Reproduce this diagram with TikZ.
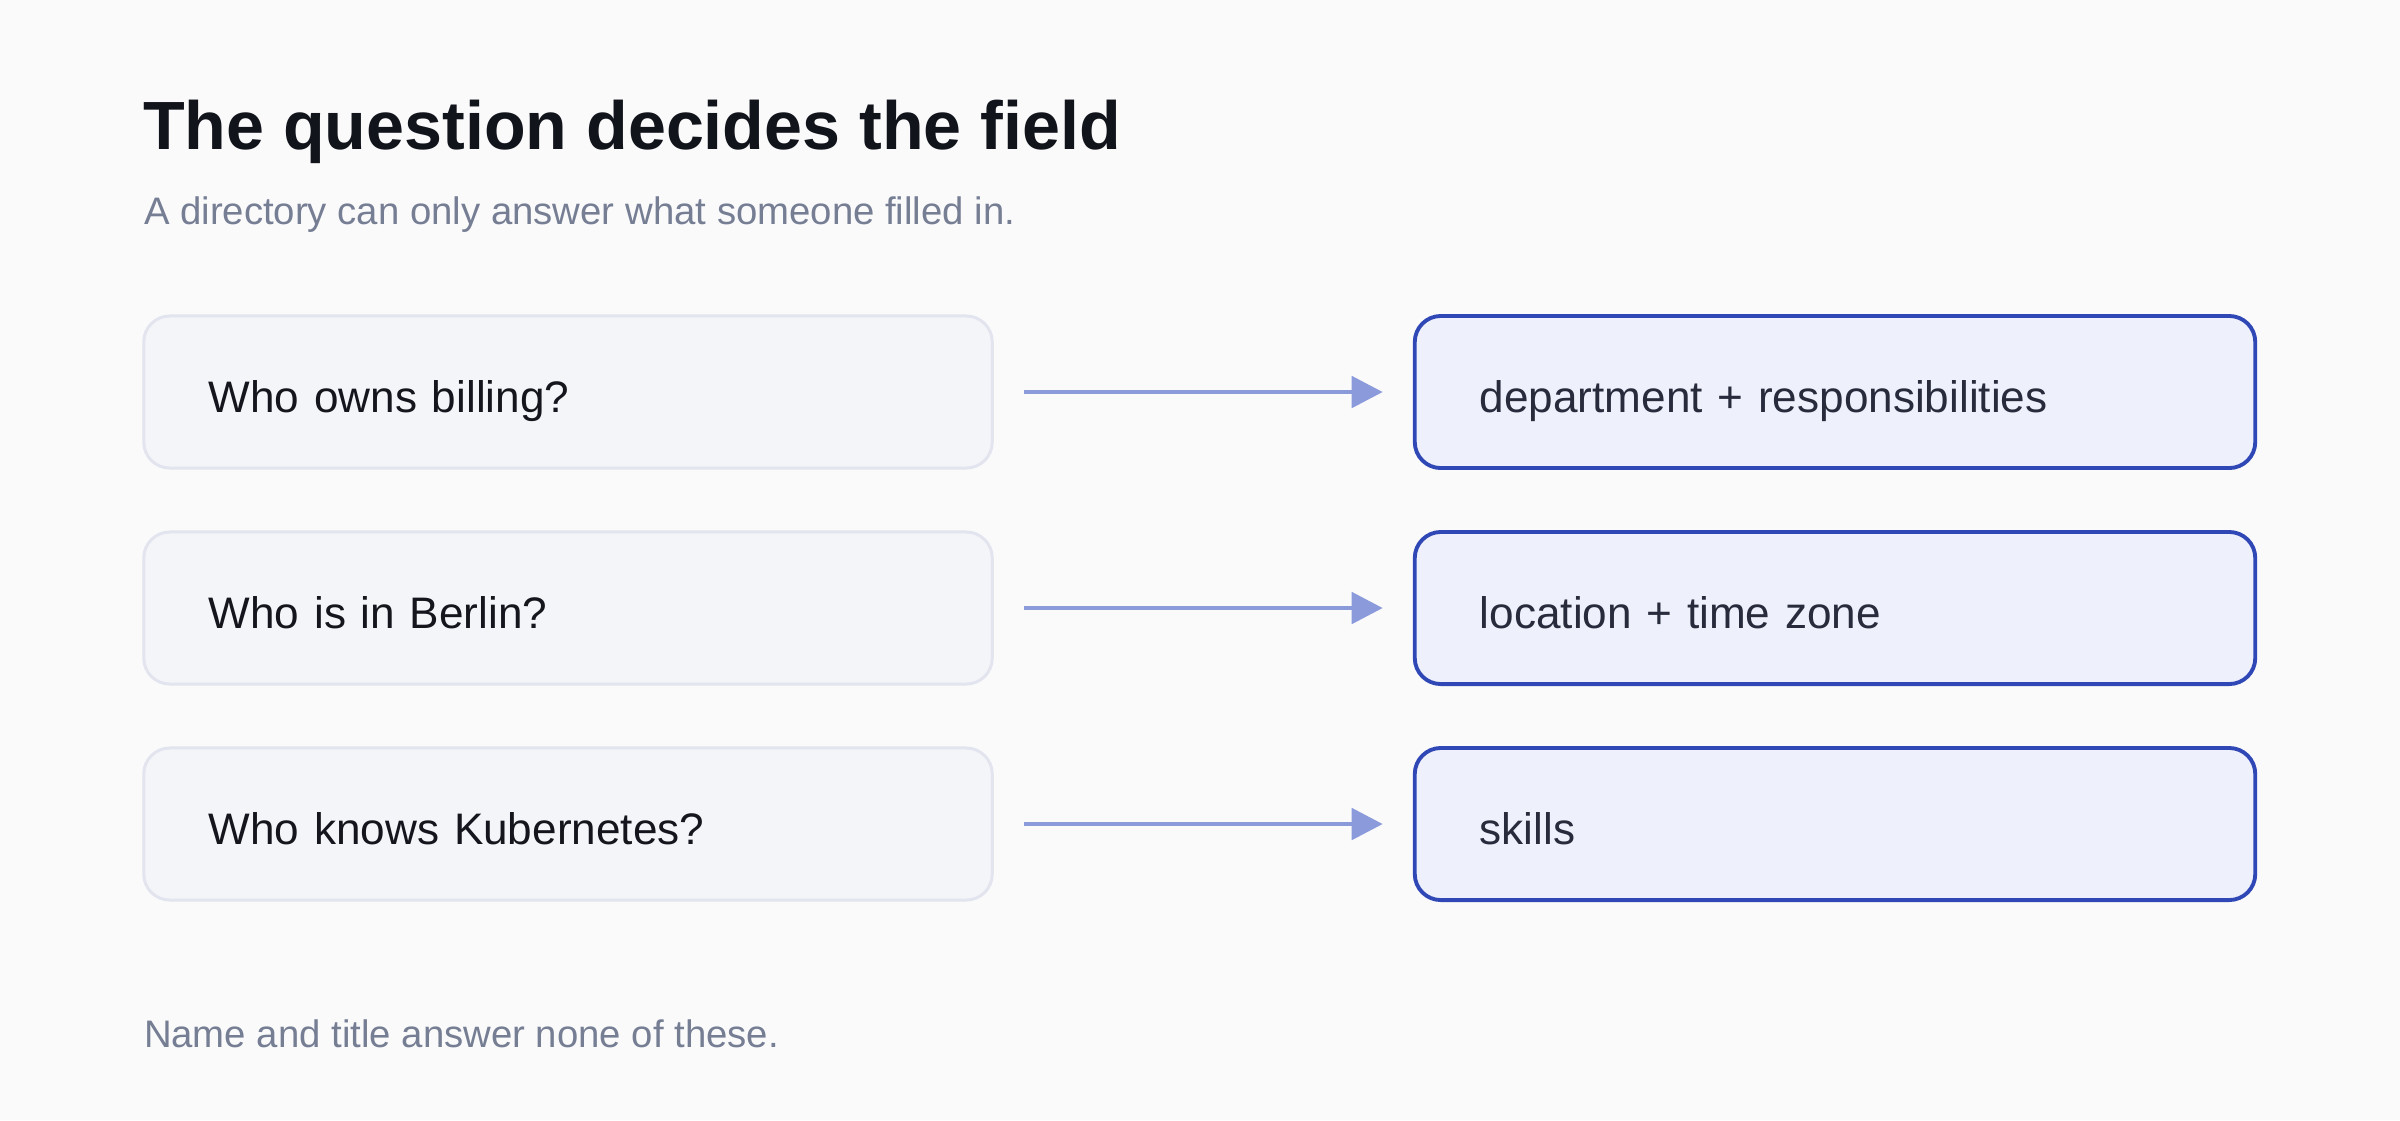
\documentclass[tikz,border=0pt]{standalone}
\usepackage{fontspec}
\setmainfont{Liberation Sans}
\usepackage{tikz}
\usetikzlibrary{positioning,arrows}
\usetikzlibrary{shapes}
\usetikzlibrary{arrows.meta}
\usepackage{xcolor}
\definecolor{pagebg}{HTML}{FAFAFB}
\definecolor{titleink}{HTML}{12141C}
\definecolor{mutedink}{HTML}{767E94}
\definecolor{qfill}{HTML}{F4F5F9}
\definecolor{qline}{HTML}{E2E4EE}
\definecolor{qink}{HTML}{15161D}
\definecolor{ffill}{HTML}{EEF0FC}
\definecolor{fline}{HTML}{2F48B6}
\definecolor{fink}{HTML}{272B3B}
\definecolor{arrowblue}{HTML}{8B9ADA}

\begin{document}
\begin{tikzpicture}[x=0.01cm, y=-0.01cm]
	\fill[pagebg] (0,0) rectangle (2400,1120);
	\useasboundingbox (0,0) rectangle (2400,1120);
	\tikzstyle{every node}=[inner sep=0pt, outer sep=0pt]
	\draw (143,149) node (title) [anchor=base west, text=titleink, font=\fontsize{19.4pt}{24pt}\selectfont\bfseries]{The question decides the field};
	\draw (144,224) node (subtitle) [anchor=base west, text=mutedink, font=\fontsize{10.9pt}{13pt}\selectfont]{A directory can only answer what someone filled in.};
	\draw (144,1047) node (footer) [anchor=base west, text=mutedink, font=\fontsize{10.9pt}{13pt}\selectfont]{Name and title answer none of these.};
	\tikzstyle{every node}=[rectangle, rounded corners=0.26cm, align=left, inner xsep=0.65cm, inner ysep=0pt, outer sep=0pt, minimum height=1.52cm, text height=0.4cm, text depth=0cm, font=\fontsize{12.55pt}{15pt}\selectfont]
	\tikzstyle{question}=[fill=qfill, draw=qline, line width=0.85pt, text=qink, text width=7.18cm]
	\tikzstyle{field}=[fill=ffill, draw=fline, line width=1.1pt, text=fink, text width=7.10cm]
	\draw (568,392) node (q1) [question]{Who owns billing?};
	\draw (568,608) node (q2) [question]{Who is in Berlin?};
	\draw (568,824) node (q3) [question]{Who knows Kubernetes?};
	\draw (1835,392) node (f1) [field]{department + responsibilities};
	\draw (1835,608) node (f2) [field]{location + time zone};
	\draw (1835,824) node (f3) [field]{skills};
	\tikzstyle{link}=[draw=arrowblue, line width=1.4pt, shorten <=0.32cm, shorten >=0.32cm, -{Triangle[length=0.31cm, width=0.31cm]}]
	\draw [link] (q1) to (f1);
	\draw [link] (q2) to (f2);
	\draw [link] (q3) to (f3);
\end{tikzpicture}
\end{document}
